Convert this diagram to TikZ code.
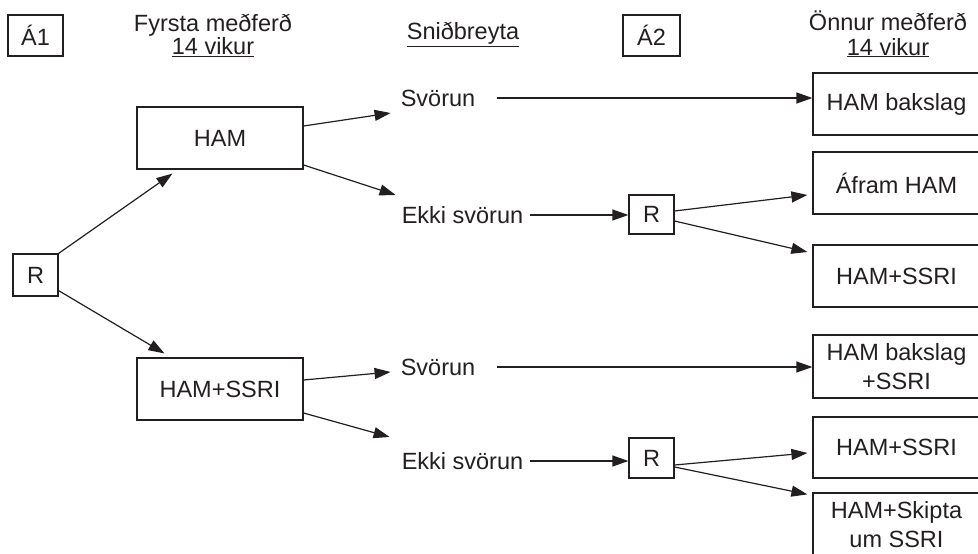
\documentclass[tikz,border=0pt]{standalone}
\usepackage{fontspec}
\setmainfont{Liberation Sans}
\usetikzlibrary{arrows.meta}
\definecolor{ink}{RGB}{35,31,32}
\begin{document}
\begin{tikzpicture}[x=1pt,y=-1pt,
  every node/.style={font=\fontsize{23.5}{29}\selectfont, text=ink},
  box/.style={draw=ink, line width=1.2pt, inner sep=0pt, align=center},
  rbox/.style={box, minimum width=167pt},
  lbl/.style={inner sep=0pt},
  arr/.style={draw=ink, line width=1.2pt, -{Triangle[length=16pt,width=11pt]}}]
\useasboundingbox (0,0) rectangle (978,554);
\clip (0,0) rectangle (978,554);
% headers
\node[box, minimum width=55pt, minimum height=41pt] (a1) at (35.5,35.5) {Á1};
\node[anchor=base] (fm1) at (213,31.7) {Fyrsta meðferð};
\node[anchor=base] (fm2) at (213,54.5) {\underline{14 vikur}};
\node[anchor=base] (snid) at (463,39.5) {\underline{Sniðbreyta}};
\node[box, minimum width=57pt, minimum height=41pt] (a2) at (651.5,35.5) {Á2};
\node[anchor=base] (om1) at (888,30.7) {Önnur meðferð};
\node[anchor=base] (om2) at (888,55) {\underline{14 vikur}};
% left part
\node[box, minimum width=45pt, minimum height=42pt] (r1) at (35.5,275) {R};
\node[box, minimum width=166pt, minimum height=62pt] (ham) at (220,138) {HAM};
\node[box, minimum width=166pt, minimum height=62pt] (hs) at (220,389) {HAM+SSRI};
% middle
\node[lbl] (sv1) at (438,98) {Svörun};
\node[lbl] (ek1) at (462.5,215) {Ekki svörun};
\node[box, minimum width=45pt, minimum height=39pt] (r2) at (651.5,214.5) {R};
\node[lbl] (sv2) at (438,367) {Svörun};
\node[lbl] (ek2) at (462.5,461) {Ekki svörun};
\node[box, minimum width=45pt, minimum height=40pt] (r3) at (651.5,458) {R};
% right boxes
\node[rbox, minimum height=62pt] (b1) at (896.5,104) {HAM bakslag};
\node[rbox, minimum height=62pt] (b2) at (896.5,183) {Áfram HAM};
\node[rbox, minimum height=62pt] (b3) at (896.5,276) {HAM+SSRI};
\node[rbox, minimum height=63pt] (b4) at (896.5,366.5) {HAM bakslag\\+SSRI};
\node[rbox, minimum height=61pt] (b5) at (896.5,447.5) {HAM+SSRI};
\node[rbox, minimum height=64pt] (b6) at (896.5,525) {HAM+Skipta\\um SSRI};
% connectors
\draw[arr] (r1.north east) -- ([xshift=36pt,yshift=-4pt]ham.south west);
\draw[arr] ([yshift=6pt]r1.south east) -- ([xshift=28pt,yshift=4pt]hs.north west);
\draw[arr] ([yshift=12pt]ham.east) -- ([xshift=-10pt,yshift=-15pt]sv1.west);
\draw[arr] ([yshift=-27pt]ham.east) -- ([xshift=-6pt,yshift=20pt]ek1.west);
\draw[arr] ([yshift=9pt]hs.east) -- ([xshift=-10pt,yshift=-5pt]sv2.west);
\draw[arr] ([yshift=-24pt]hs.east) -- ([xshift=-12pt,yshift=24pt]ek2.west);
\draw[arr] ([xshift=22pt]sv1.east) -- (sv1.east -| b1.west);
\draw[arr] ([xshift=7pt]ek1.east) -- (ek1.east -| r2.west);
\draw[arr] ([xshift=22pt]sv2.east) -- (sv2.east -| b4.west);
\draw[arr] ([xshift=7pt]ek2.east) -- (ek2.east -| r3.west);
\draw[arr] ([yshift=3.5pt]r2.east) -- ([xshift=-5pt,yshift=-12pt]b2.west);
\draw[arr] ([yshift=-6.5pt]r2.east) -- ([xshift=-5pt,yshift=24pt]b3.west);
\draw[arr] ([yshift=-7pt]r3.east) -- ([xshift=-5pt,yshift=-5.5pt]b5.west);
\draw[arr] ([yshift=-9pt]r3.east) -- ([xshift=-5pt,yshift=-2pt]b6.north west);
\end{tikzpicture}
\end{document}
